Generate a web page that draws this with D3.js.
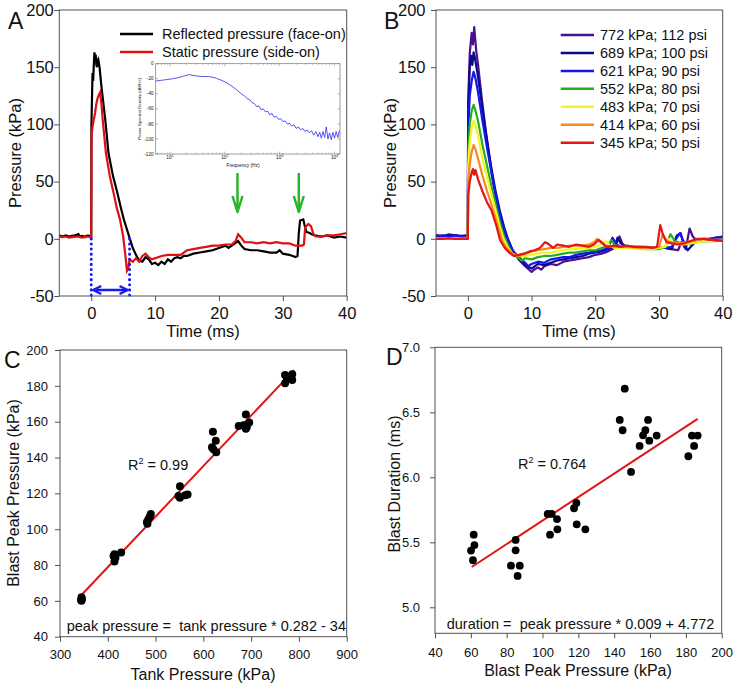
<!DOCTYPE html>
<html><head><meta charset="utf-8">
<script src="https://cdn.jsdelivr.net/npm/d3@7"></script>
<style>
html,body{margin:0;padding:0;background:#fff;}
svg{display:block;font-family:Arial,"Liberation Sans",sans-serif;}
text{fill:#111;}
</style></head>
<body><svg id="c" width="739" height="689"></svg>
<script>
// ---------- DATA ----------
// Panel A traces [time ms, pressure kPa]
const reflectedA = [[-5,3],[-4.5,2],[-4,3],[-3.5,2],[-3,2.5],[-2.5,3],[-2,4],[-1.8,2],[-1.5,2.5],[-1,2],[-0.5,3],[-0.1,2],[0,2],[0.03,100],[0.1,118],[0.2,145],[0.3,138],[0.4,152],[0.5,163],[0.6,158],[0.7,161],[0.8,152],[0.9,150],[1.0,156],[1.1,157],[1.3,150],[1.6,133],[2.2,104],[2.7,75],[3.4,55],[4.1,40],[4.6,28],[5.1,17],[5.6,8],[6.1,-1],[6.5,-8],[7,-14],[7.5,-19],[8,-20],[8.5,-16],[9,-18],[9.5,-22],[10,-21],[10.5,-23],[11,-20],[11.5,-22],[12,-18],[12.5,-20],[13,-17],[13.5,-16],[14,-17],[14.5,-15],[15,-15],[16,-13],[17,-12],[18,-11],[19,-10],[20,-8],[21,-6],[21.5,-8],[22,-6],[22.5,-4],[23,-2],[23.5,-6],[24,-9],[25,-10],[26,-10],[27,-11],[28,-12],[29,-12],[29.5,-10],[30,-13],[31,-14],[32,-16],[32.3,-15],[32.5,5],[32.7,16],[33.2,17],[33.4,12],[33.7,6],[34.2,5],[34.5,4],[35,3],[36,2],[37,3],[38,1],[39,2],[40,1]];
const staticA = [[-5,2],[-4.5,1.5],[-4,2],[-3.5,1],[-3,1.5],[-2,2],[-1.5,1],[-1,1.5],[-0.5,2],[0,1],[0.05,90],[0.2,98],[0.4,104],[0.6,110],[0.8,118],[1.0,123],[1.2,126],[1.4,128],[1.6,118],[1.8,104],[2.3,75],[2.9,55],[3.5,40],[4.0,27],[4.5,17],[5.0,2],[5.3,-12],[5.6,-28],[5.8,-26],[6,-18],[6.5,-20],[7,-17],[7.5,-20],[8,-15],[8.5,-13],[9,-16],[9.5,-18],[10,-17],[11,-15],[12,-14],[13,-14],[14,-14],[15,-10],[16,-9],[17,-8],[18,-7],[19,-6],[20,-6],[21,-5],[22,-5],[22.6,-2],[23,4],[23.5,1],[24,-3],[25,-3],[26,-4],[27,-3],[28,-4],[29,-3],[30,-4],[31,-4],[32,-6],[33,-6],[33.3,-5],[33.5,10],[34,13],[34.4,11],[34.8,4],[35.2,2],[36,2],[37,3],[38,3],[39,4],[40,5]];
const legendA = ["Reflected pressure (face-on)", "Static pressure (side-on)"];
const arrowTimesA = [22.9, 32.5];
const durationMarksA = [0, 6];

// Inset PSD: log10 frequency, dB/Hz
const insetLogF = [0.74,0.85,0.95,1.05,1.15,1.25,1.35,1.42,1.5,1.6,1.7,1.78,1.85,1.92,2.0,2.08,2.15,2.22,2.3,2.36,2.42,2.46,2.5,2.54,2.58,2.62,2.66,2.7,2.74,2.78,2.82,2.86,2.9,2.94,2.98,3.02,3.06,3.1,3.14,3.18,3.22,3.26,3.3,3.34,3.38,3.42,3.46,3.5,3.54,3.58,3.62,3.66,3.7,3.73,3.76,3.79,3.82,3.85,3.88,3.91,3.94,3.97,4.0,4.03,4.06,4.09];
const insetPSD = [-23,-22,-21,-20,-18.5,-16.5,-14.5,-15.5,-16.5,-17,-17,-18,-19.5,-21.5,-24,-27.5,-31,-35,-40,-43,-47,-48,-52,-53,-57,-56,-61,-60,-64,-63,-68,-66,-71,-70,-74,-73,-77,-76,-80,-79,-83,-81,-86,-84,-88,-86,-90,-88,-92,-89,-95,-90,-97,-91,-99,-90,-98,-84,-100,-92,-101,-91,-99,-90,-98,-89];
const insetYTicks = [0,-20,-40,-60,-80,-100,-120];
const insetXTicks = [1,2,3,4];

// Panel B traces by tank pressure
const legendB = ["772 kPa; 112 psi","689 kPa; 100 psi","621 kPa; 90 psi","552 kPa; 80 psi","483 kPa; 70 psi","414 kPa; 60 psi","345 kPa; 50 psi"];
const colorsB = ["#4a1090","#0a0a8c","#1414f0","#22b022","#f5f51e","#f58a1e","#e81414"];
const trace772 = [[-5,3],[-4,2],[-3,4],[-2,3],[-1,2],[0,3],[0.05,120],[0.3,162],[0.6,180],[0.8,170],[1.0,185],[1.3,165],[1.6,152],[2.2,122],[2.8,95],[3.4,70],[4.0,48],[4.6,30],[5.2,16],[5.8,5],[6.5,-3],[7,-10],[8,-18],[9,-24],[10,-29],[10.4,-27],[11,-25],[11.5,-27],[12,-24],[13,-22],[14,-23],[15,-20],[16,-19],[17,-18],[18,-17],[19,-16],[20,-14],[21,-13],[22,-11],[23,-8],[23.8,2],[24.3,-5],[25,-8],[27,-8],[29,-8],[31,-8],[32,-9],[33,-10],[33.5,-3],[34.2,-9],[34.8,9],[35.3,2],[36,-2],[37,-1],[38,-1],[39,0],[40,2]];
const trace689 = [[-5,3],[-4,2.5],[-3,3],[-2,3],[-1,2.5],[0,3],[0.05,110],[0.3,150],[0.5,160],[0.7,152],[0.9,163],[1.1,158],[1.5,145],[2.2,117],[2.9,90],[3.6,65],[4.3,43],[5.0,25],[5.7,10],[6.4,-2],[7,-10],[8,-18],[9,-23],[10,-26],[10.5,-24],[11,-22],[12,-23],[13,-21],[14,-19],[15,-18],[16,-17],[17,-16],[18,-15],[19,-13],[20,-12],[21,-11],[22,-9],[23,-7],[23.5,1],[24,-4],[25,-7],[27,-7],[29,-8],[31,-8],[32,-9],[32.8,3],[33.4,5],[33.8,-3],[34.5,-10],[35,-7],[36,-1],[37,0],[38,0],[39,1],[40,1]];
const trace621 = [[-5,3],[-4.5,2],[-4,3],[-3,2],[-2,3],[-1,2],[0,2],[0.05,95],[0.3,125],[0.6,138],[0.9,146],[1.2,140],[1.6,128],[2.3,103],[3,80],[3.7,58],[4.4,38],[5.0,22],[5.7,8],[6.4,-3],[7,-10],[8,-16],[9,-21],[9.5,-24],[10,-22],[11,-20],[12,-21],[13,-18],[14,-17],[15,-16],[16,-16],[17,-14],[18,-13],[19,-12],[20,-11],[21,-10],[22,-8],[22.7,1],[23.3,-5],[24,-7],[26,-7],[28,-8],[30,-8],[31,-8],[32,-7],[32.7,0],[33.3,5],[33.8,-2],[34.5,-4],[35,-5],[36,-2],[37,-2],[38,0],[39,1],[40,2]];
const trace552 = [[-5,0],[-3,0],[-1,0],[0,0],[0.05,75],[0.3,100],[0.6,112],[0.9,117],[1.2,112],[1.6,103],[2.3,82],[3,64],[3.7,46],[4.4,29],[5.0,15],[5.7,2],[6.4,-7],[7,-13],[8,-17],[8.5,-19],[9,-17],[10,-18],[11,-16],[12,-15],[13,-15],[14,-14],[15,-13],[16,-12],[17,-12],[18,-11],[19,-10],[20,-10],[21,-8],[22,-6],[22.5,-1],[23,-5],[24,-8],[26,-8],[28,-9],[30,-9],[31,-7],[31.8,4],[32.5,-2],[33,-3],[34,-4],[35,-4],[36,-3],[37,-2],[38,-2],[39,-2],[40,-1]];
const trace483 = [[-5,0],[-3,0],[-1,0],[0,0],[0.05,62],[0.3,85],[0.6,97],[0.9,103],[1.2,99],[1.6,90],[2.3,70],[3,54],[3.7,39],[4.4,24],[5.0,11],[5.6,0],[6.3,-8],[7,-13],[8,-15],[9,-15],[10,-14],[11,-13],[12,-12],[13,-12],[14,-11],[15,-10],[16,-9],[17,-9],[18,-8],[19,-8],[20,-7],[21,-5],[21.7,-2],[22.3,-6],[23,-8],[25,-8],[27,-9],[29,-9],[30,-8],[31,-7],[31.5,0],[32,-4],[33,-5],[34,-5],[35,-4],[36,-3],[37,-2],[38,-2],[39,-1],[40,-1]];
const trace414 = [[-5,0],[-3,0],[-1,0],[0,0],[0.05,50],[0.3,65],[0.6,76],[0.9,82],[1.2,78],[1.6,70],[2.3,55],[3,42],[3.7,30],[4.4,17],[5.0,6],[5.5,-3],[6.2,-9],[7,-13],[8,-15],[9,-13],[10,-11],[11,-10],[12,-9],[13,-8],[14,-8],[15,-7],[16,-6],[17,-6],[18,-6],[19,-5],[19.8,-3],[20.3,0],[20.8,-3],[21.5,-6],[23,-7],[25,-7],[27,-8],[29,-8],[30,-7],[30.6,4],[31.2,-2],[32,-3],[33,-4],[34,-3],[35,-2],[36,-1],[37,0],[38,-1],[39,-1],[40,-1]];
const trace345 = [[-5,0],[-4,0],[-3,0.5],[-2,0],[-1,0],[0,0],[0.05,38],[0.3,50],[0.6,58],[0.8,61],[1.0,56],[1.2,60],[1.6,52],[2.4,40],[3.0,32],[3.7,25],[4.5,11],[5.05,-1],[5.8,-8],[6.5,-12],[7.2,-15],[8,-14],[8.8,-13],[9.75,-11],[10.5,-10],[11.3,-8],[12.1,-3],[12.5,-4],[13.4,-8],[14,-5],[15,-6],[15.9,-7],[17,-5],[18,-6],[19,-7],[19.8,-5],[20.5,-1],[21,-3],[21.8,-7],[23,-6],[24,-7],[25,-6],[26,-7],[27,-7],[28,-7],[29,-8],[29.7,-7],[30.2,12],[30.6,4],[31.2,-3],[32,-4],[33,-5],[34,-4],[35,-2],[36,0],[37,0],[38,-1],[39,-1],[40,-2]];
const tracesB = [trace772,trace689,trace621,trace552,trace483,trace414,trace345];

// Panel C: tank pressure vs blast peak pressure
const tankPressure = [345,345,346,344, 414,414,428,416,412, 482,490,483,488,485, 551,551,567,562,548, 620,618,626,627,621, 674,689,689,696,684,691, 771,771,786,786,778,775];
const peakPressure = [62,60,61,60.5, 86,82,87,84,85, 104,108.5,103,107,105.5, 124,117.5,119.4,119,118.5, 154.4,145.7,149.4,143,144.6, 157.6,164,156,159.6,158,157, 186,181.4,186.4,183.3,184.7,183.6];
const fitC = [[345,63.3],[790,188.8]];
const eqC = "peak pressure =  tank pressure * 0.282 - 34";
const r2C = "0.99";

// Panel D: blast peak pressure vs blast duration
const peakD = [60.1,61.2,61.6,62.0, 82.4,85.0,85.0,86.1,87.3, 102.9,105.1,104.2,108.1,108.3, 117.6,118.9,119.1,123.9, 143.1,144.7,145.9,149.4,154.2,156.1,157.4,158.9,159.6,163.7, 181.4,183.4,184.6,186.6];
const durationD = [5.436,5.362,5.559,5.479, 5.32,5.518,5.438,5.241,5.32, 5.718,5.718,5.559,5.679,5.6, 5.762,5.803,5.638,5.6, 6.441,6.362,6.682,6.041,6.241,6.323,6.362,6.441,6.282,6.321, 6.162,6.321,6.241,6.321];
const fitD = [[60.5,5.31],[186.6,6.45]];
const eqD = "duration =  peak pressure * 0.009 + 4.772";
const r2D = "0.764";

// ---------- DRAW ----------
const svg = d3.select("#c");
const AX = "#505050";
const plain = d => String(d);

function frame(x, y) {
  const [x0,x1] = x.range(), [y0,y1] = y.range();
  svg.append("rect").attr("x",x0).attr("y",y1).attr("width",x1-x0).attr("height",y0-y1)
    .attr("fill","none").attr("stroke",AX).attr("stroke-width",1);
}
function axes(x, y, o) {
  const gx = svg.append("g").attr("transform",`translate(0,${y.range()[0]})`)
    .call(d3.axisBottom(x).tickValues(o.xt).tickSize(5).tickSizeOuter(0).tickPadding(o.xpad).tickFormat(o.xf||plain));
  const gy = svg.append("g").attr("transform",`translate(${x.range()[0]},0)`)
    .call(d3.axisLeft(y).tickValues(o.yt).tickSize(5).tickSizeOuter(0).tickPadding(o.ypad).tickFormat(o.yf||plain));
  [gx,gy].forEach(g=>{
    g.select(".domain").remove();
    g.selectAll(".tick line").attr("stroke",AX);
    g.selectAll("text").attr("font-size",o.fs).attr("fill","#111").attr("font-family","Arial, 'Liberation Sans', sans-serif");
  });
  frame(x,y);
}
function label(txt, x, y, fs, rot, anchor) {
  const t = svg.append("text").attr("font-size",fs).attr("text-anchor",anchor||"middle").text(txt);
  if (rot) t.attr("transform",`translate(${x},${y}) rotate(-90)`).attr("dy","0.35em");
  else t.attr("x",x).attr("y",y);
  return t;
}

// ===== Panel A =====
const xA = d3.scaleLinear([-5,40],[59.3,346.7]);
const yA = d3.scaleLinear([-50,200],[296,10]);
const lineA = d3.line().x(d=>xA(d[0])).y(d=>yA(d[1]));
svg.append("clipPath").attr("id","clipA").append("rect")
  .attr("x",59.3).attr("y",10).attr("width",287.4).attr("height",286);
svg.append("path").datum(reflectedA).attr("d",lineA).attr("fill","none").attr("stroke","#000").attr("stroke-width",2.2).attr("clip-path","url(#clipA)");
svg.append("path").datum(staticA).attr("d",lineA).attr("fill","none").attr("stroke","#e01010").attr("stroke-width",2.2).attr("clip-path","url(#clipA)");
// duration markers
durationMarksA.forEach(t=>{
  svg.append("line").attr("x1",xA(t)).attr("x2",xA(t)).attr("y1",yA(0)).attr("y2",yA(-50))
    .attr("stroke","#1a1aee").attr("stroke-width",3).attr("stroke-dasharray","0.1,5").attr("stroke-linecap","round");
});
{
  const ya = 290, xa0 = xA(durationMarksA[0])+2, xa1 = xA(durationMarksA[1])-2;
  svg.append("line").attr("x1",xa0).attr("x2",xa1).attr("y1",ya).attr("y2",ya).attr("stroke","#1a1aee").attr("stroke-width",2.5);
  svg.append("path").attr("d",`M${xa0+8},${ya-4}L${xa0},${ya}L${xa0+8},${ya+4}M${xa1-8},${ya-4}L${xa1},${ya}L${xa1-8},${ya+4}`)
    .attr("fill","none").attr("stroke","#1a1aee").attr("stroke-width",2.5).attr("stroke-linejoin","round");
}
// green arrows
arrowTimesA.forEach(t=>{
  const x = xA(t);
  svg.append("line").attr("x1",x).attr("x2",x).attr("y1",173).attr("y2",211).attr("stroke","#2ab52a").attr("stroke-width",2.5);
  svg.append("path").attr("d",`M${x-5},${196}L${x},${212}L${x+5},${196}`).attr("fill","none").attr("stroke","#2ab52a").attr("stroke-width",2.5).attr("stroke-linejoin","round");
});
axes(xA,yA,{xt:[0,10,20,30,40],yt:[-50,0,50,100,150,200],fs:16.5,xpad:6,ypad:0.5});
label("Pressure (kPa)",15,153,16.5,true);
label("Time (ms)",203,337,16.5);
label("A",8,28.5,23,false,"start");
// legend A
[["#000",legendA[0],34],["#e01010",legendA[1],52]].forEach(([c,t,y])=>{
  svg.append("line").attr("x1",120).attr("x2",153).attr("y1",y).attr("y2",y).attr("stroke",c).attr("stroke-width",2.5);
  svg.append("text").attr("x",162).attr("y",y+5.2).attr("font-size",14.5).text(t);
});

// ----- Inset -----
const xI = d3.scaleLinear([0.74,4.1],[155.7,340]);
const yI = d3.scaleLinear([-120,0],[154,63.7]);
svg.append("rect").attr("x",155.7).attr("y",63.7).attr("width",184.3).attr("height",90.3).attr("fill","#fff").attr("stroke","#777").attr("stroke-width",0.7);
const gI = svg.append("g");
insetYTicks.forEach(v=>{
  gI.append("line").attr("x1",155.7).attr("x2",158.2).attr("y1",yI(v)).attr("y2",yI(v)).attr("stroke","#777").attr("stroke-width",0.5);
  gI.append("line").attr("x1",337.5).attr("x2",340).attr("y1",yI(v)).attr("y2",yI(v)).attr("stroke","#777").attr("stroke-width",0.5);
  gI.append("text").attr("x",153.5).attr("y",yI(v)+1.6).attr("font-size",4.6).attr("text-anchor","end").attr("fill","#333").text(v);
});
const minorLogs = [];
[0,1,2,3,4].forEach(d=>{ for(let m=2;m<=9;m++){ const l=d+Math.log10(m); if(l>0.74&&l<4.1) minorLogs.push(l);} });
minorLogs.forEach(l=>{
  gI.append("line").attr("x1",xI(l)).attr("x2",xI(l)).attr("y1",154).attr("y2",152.5).attr("stroke","#777").attr("stroke-width",0.4);
  gI.append("line").attr("x1",xI(l)).attr("x2",xI(l)).attr("y1",63.7).attr("y2",65.2).attr("stroke","#777").attr("stroke-width",0.4);
});
insetXTicks.forEach(e=>{
  gI.append("line").attr("x1",xI(e)).attr("x2",xI(e)).attr("y1",154).attr("y2",151.5).attr("stroke","#777").attr("stroke-width",0.5);
  gI.append("line").attr("x1",xI(e)).attr("x2",xI(e)).attr("y1",63.7).attr("y2",66.2).attr("stroke","#777").attr("stroke-width",0.5);
  const t = gI.append("text").attr("x",xI(e)).attr("y",159).attr("font-size",4.8).attr("text-anchor","middle").attr("fill","#333");
  t.append("tspan").text("10");
  t.append("tspan").attr("dy",-2).attr("font-size",3.4).text(e);
});
gI.append("text").attr("x",243).attr("y",167).attr("font-size",4.8).attr("text-anchor","middle").attr("fill","#333").text("Frequency (Hz)");
gI.append("text").attr("transform","translate(141,109) rotate(-90)").attr("font-size",4.4).attr("text-anchor","middle").attr("fill","#333").text("Power Spectral Density (dB/Hz)");
svg.append("path").datum(d3.zip(insetLogF,insetPSD))
  .attr("d",d3.line().x(d=>xI(d[0])).y(d=>yI(d[1])))
  .attr("fill","none").attr("stroke","#2c2cf0").attr("stroke-width",0.8);

// ===== Panel B =====
const xB = d3.scaleLinear([-5,40],[436,722.7]);
const yB = d3.scaleLinear([-50,200],[296,10]);
const lineB = d3.line().x(d=>xB(d[0])).y(d=>yB(d[1]));
tracesB.forEach((tr,i)=>{
  svg.append("path").datum(tr).attr("d",lineB).attr("fill","none").attr("stroke",colorsB[i]).attr("stroke-width",2.2).attr("stroke-linejoin","round");
});
axes(xB,yB,{xt:[0,10,20,30,40],yt:[-50,0,50,100,150,200],fs:16.5,xpad:6,ypad:5.5});
label("Pressure (kPa)",390,153,16.5,true);
label("Time (ms)",579,337,16.5);
label("B",384,28.5,23,false,"start");
legendB.forEach((t,i)=>{
  const y = 35 + i*17.95;
  svg.append("line").attr("x1",560.7).attr("x2",594).attr("y1",y).attr("y2",y).attr("stroke",colorsB[i]).attr("stroke-width",2.5);
  svg.append("text").attr("x",600).attr("y",y+5.2).attr("font-size",14.5).text(t);
});

// ===== Panel C =====
const xC = d3.scaleLinear([300,900],[60,346.7]);
const yC = d3.scaleLinear([40,200],[636.7,350]);
svg.append("path").datum(fitC).attr("d",d3.line().x(d=>xC(d[0])).y(d=>yC(d[1]))).attr("stroke","#e01515").attr("stroke-width",2);
svg.append("g").selectAll("circle").data(d3.zip(tankPressure,peakPressure)).join("circle")
  .attr("cx",d=>xC(d[0])).attr("cy",d=>yC(d[1])).attr("r",4).attr("fill","#000");
axes(xC,yC,{xt:d3.range(300,901,100),yt:d3.range(40,201,20),fs:13,xpad:7.6,ypad:7});
label("Blast Peak Pressure (kPa)",13,493,16,true);
label("Tank Pressure (kPa)",203,680,16);
label("C",4,368,23,false,"start");
{
  const t = svg.append("text").attr("x",128).attr("y",470).attr("font-size",14.5);
  t.append("tspan").text("R");
  t.append("tspan").attr("dy",-6).attr("font-size",9).text("2");
  t.append("tspan").attr("dy",6).text(" = " + r2C);
  svg.append("text").attr("x",66.7).attr("y",631).attr("font-size",14.5).style("white-space","pre").text(eqC);
}

// ===== Panel D =====
const xD = d3.scaleLinear([40,200],[435,721.7]);
const yD = d3.scaleLinear([4.8,7.0],[633.3,347.3]);
svg.append("path").datum(fitD).attr("d",d3.line().x(d=>xD(d[0])).y(d=>yD(d[1]))).attr("stroke","#e01515").attr("stroke-width",2);
svg.append("g").selectAll("circle").data(d3.zip(peakD,durationD)).join("circle")
  .attr("cx",d=>xD(d[0])).attr("cy",d=>yD(d[1])).attr("r",3.9).attr("fill","#000");
axes(xD,yD,{xt:d3.range(40,201,20),yt:[5.0,5.5,6.0,6.5,7.0],yf:d3.format(".1f"),fs:13,xpad:9,ypad:10});
label("Blast Duration (ms)",394,484,16,true);
label("Blast Peak Pressure (kPa)",578,676,16);
label("D",386,365,23,false,"start");
{
  const t = svg.append("text").attr("x",518).attr("y",469).attr("font-size",14.5);
  t.append("tspan").text("R");
  t.append("tspan").attr("dy",-6).attr("font-size",9).text("2");
  t.append("tspan").attr("dy",6).text(" = " + r2D);
  svg.append("text").attr("x",446.7).attr("y",629).attr("font-size",14.5).style("white-space","pre").text(eqD);
}
</script></body></html>
